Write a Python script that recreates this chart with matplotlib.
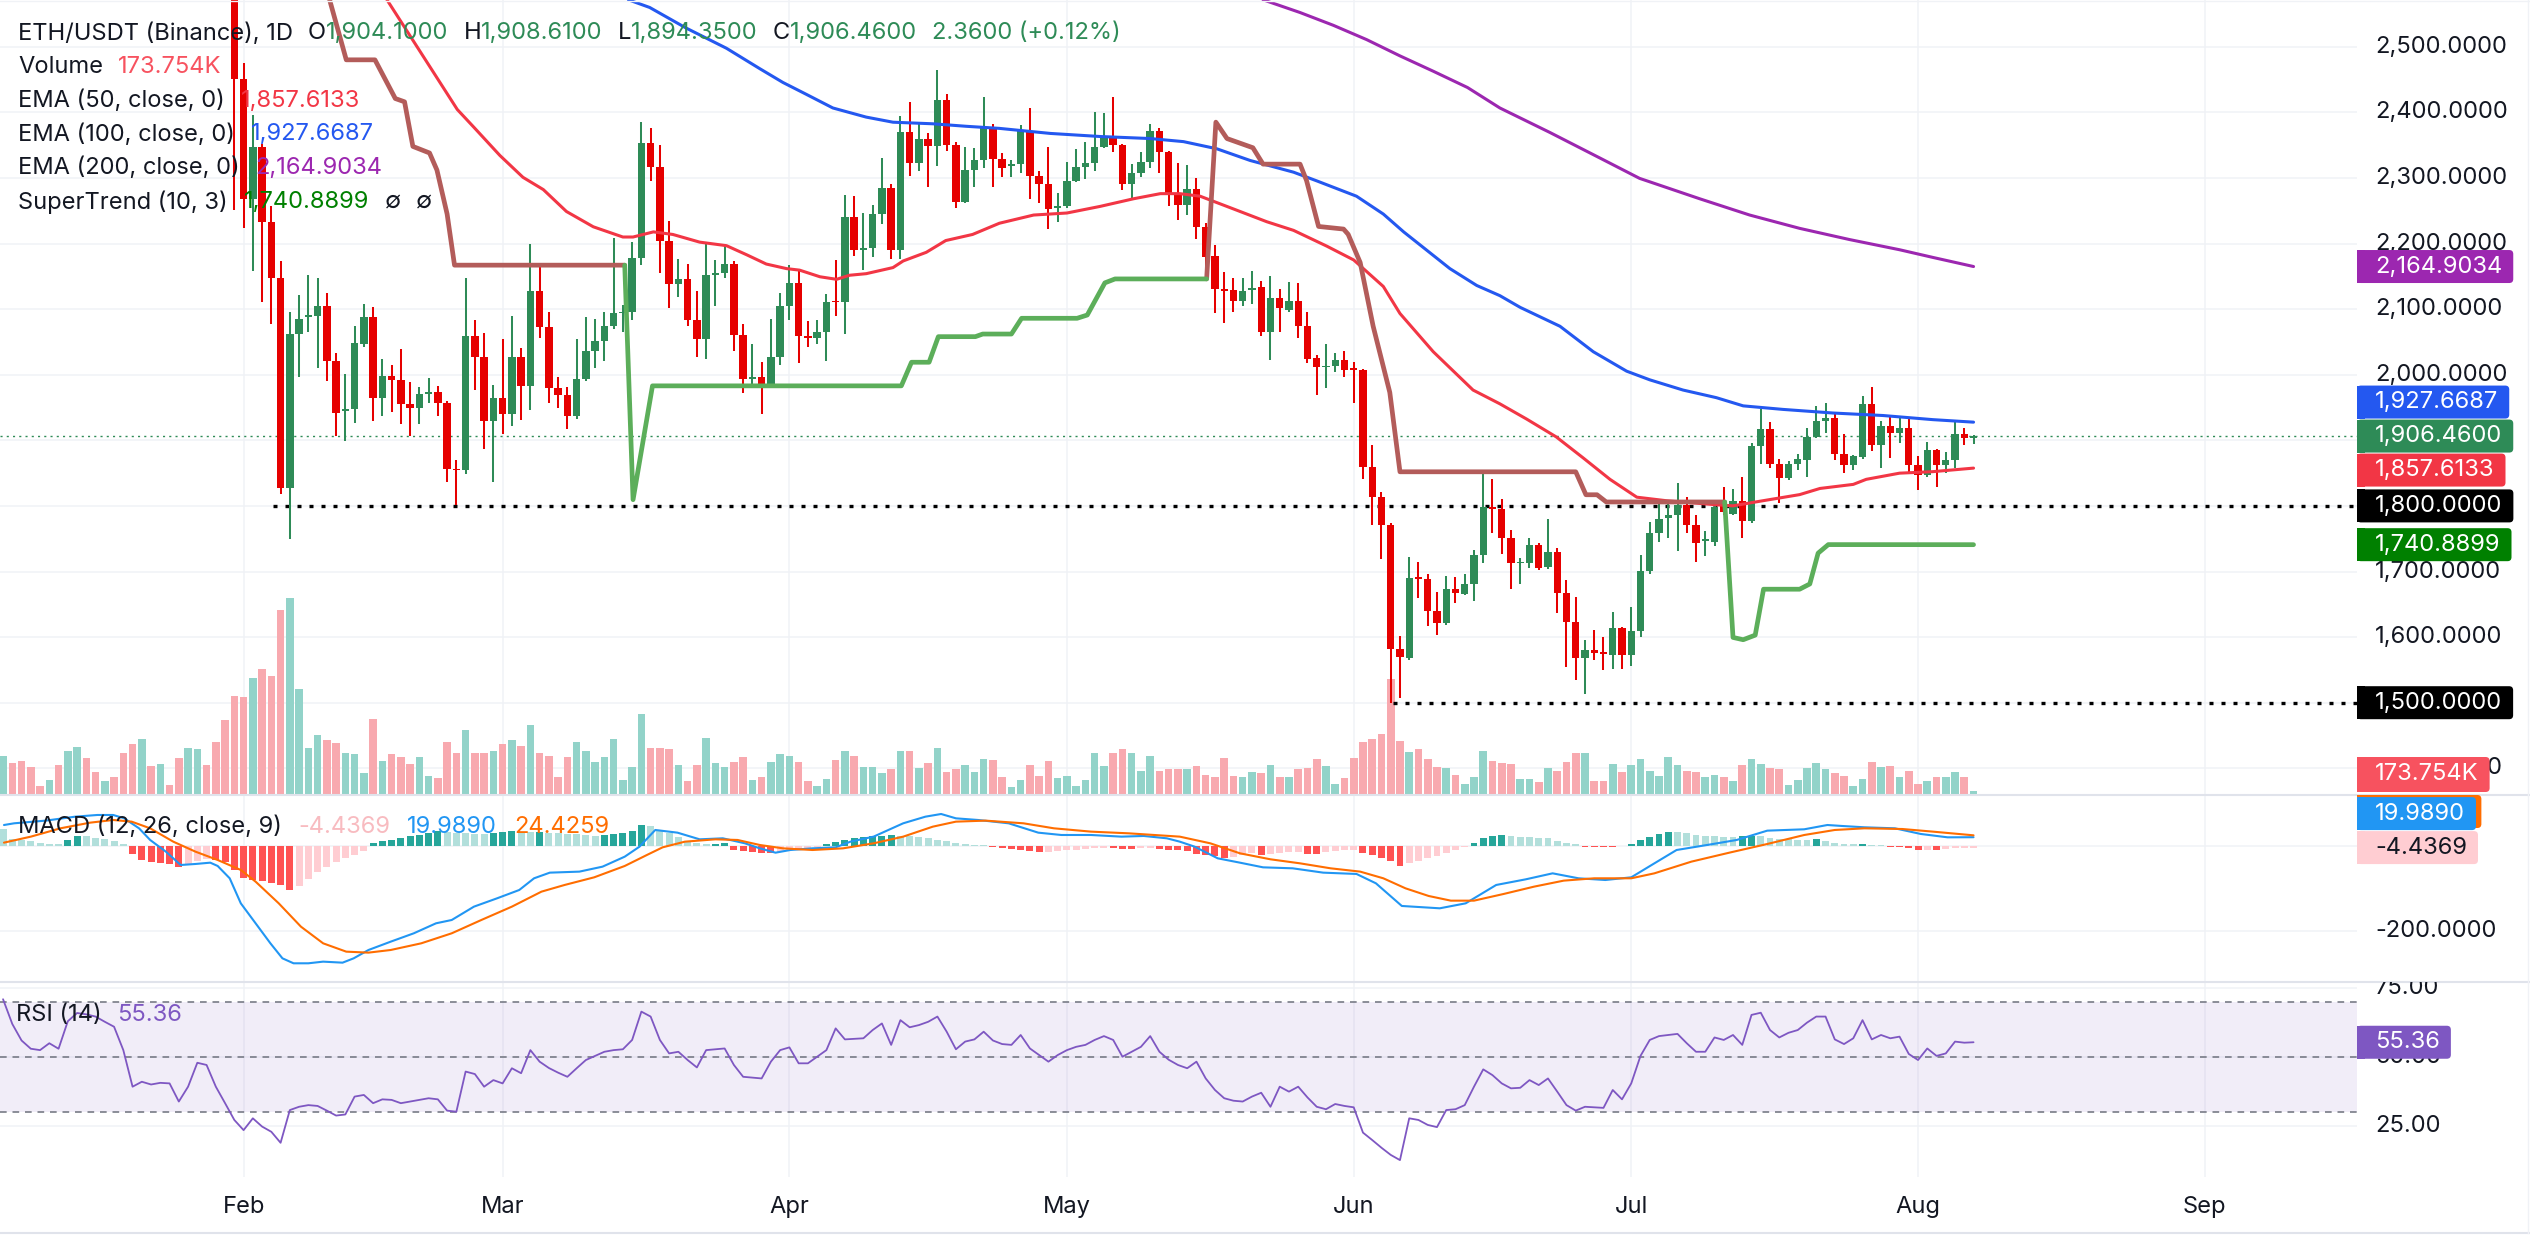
import numpy as np
import matplotlib
matplotlib.use("Agg")
import matplotlib.pyplot as plt
from matplotlib.patches import FancyBboxPatch, Rectangle
from matplotlib.transforms import Bbox

plt.rcParams['font.family'] = ['Inter', 'DejaVu Sans']

# ---------------------------------------------------------------- data
month_labels = ["Feb", "Mar", "Apr", "May", "Jun", "Jul", "Aug", "Sep"]
month_days = [0, 28, 59, 89, 120, 150, 181, 212]          # day index, 0 = 1 Feb
price_ticks = [1400, 1500, 1600, 1700, 1800, 1900, 2000, 2100, 2200, 2300, 2400, 2500]
macd_ticks = [0, -200]
rsi_ticks = [25, 50, 75]
level_prices = [1800, 1500]          # horizontal ray drawings
level_start_day = [3.2, 124.3]

candle_start = -1
opens = [2600.0, 2451.0, 2268.2, 2347.6, 2233.2, 2147.7, 1826.6, 2062.2, 2088.6, 2089.4,
         2104.9, 2021.0, 1944.7, 1947.1, 2046.6, 2087.8, 1965.0, 1997.6, 1992.2, 1955.6,
         1949.4, 1971.2, 1974.3, 1957.2, 1856.1, 1854.5, 2058.3, 2027.2, 1929.2, 1965.0,
         1940.1, 2027.2, 1982.1, 2128.3, 2072.3, 1979.0, 1968.9, 1937.8, 1993.7, 2036.5,
         2052.1, 2073.8, 2093.3, 2095.6, 2177.3, 2353.8, 2316.4, 2203.7, 2137.6, 2145.4,
         2083.9, 2054.4, 2151.6, 2155.5, 2168.7, 2059.8, 1993.7, 1996.1, 1984.4, 2027.2,
         2104.9, 2139.9, 2058.3, 2055.9, 2064.5, 2111.2, 2110.4, 2241.0, 2190.5, 2192.8,
         2244.9, 2285.3, 2190.5, 2369.3, 2322.7, 2360.0, 2348.3, 2418.3, 2349.9, 2262.8,
         2312.6, 2326.6, 2375.5, 2328.9, 2318.0, 2321.1, 2370.9, 2303.2, 2290.0, 2254.2,
         2256.6, 2295.5, 2317.2, 2322.7, 2347.5, 2363.1, 2349.9, 2290.0, 2307.1, 2325.0,
         2370.9, 2339.8, 2276.0, 2258.9, 2283.8, 2225.5, 2180.4, 2130.6, 2129.8, 2112.7,
         2129.8, 2133.7, 2064.5, 2116.6, 2098.7, 2112.7, 2073.8, 2024.9, 2011.6, 2014.0,
         2021.7, 2009.3, 2007.7, 1860.0, 1813.3, 1770.5, 1582.4, 1568.4, 1691.3, 1688.9,
         1639.9, 1621.3, 1673.4, 1665.6, 1681.1, 1725.5, 1797.8, 1795.5, 1751.1, 1712.3,
         1712.3, 1741.0, 1706.8, 1729.4, 1667.9, 1622.8, 1568.4, 1580.1, 1577.7, 1572.3,
         1613.5, 1572.3, 1608.8, 1700.6, 1758.9, 1782.2, 1786.1, 1801.7, 1770.5, 1747.2,
         1745.7, 1801.7, 1787.7, 1807.1, 1776.8, 1891.1, 1916.8, 1863.9, 1842.1, 1863.9,
         1870.1, 1904.3, 1930.0, 1933.9, 1879.4, 1862.3, 1874.0, 1954.9, 1892.7, 1922.2,
         1910.5, 1918.3, 1862.3, 1846.8, 1884.9, 1862.3, 1870.1, 1909.0, 1904.1]
highs = [2625.0, 2475.9, 2396.5, 2352.0, 2256.6, 2173.4, 2095.6, 2122.0, 2151.6, 2147.7,
         2124.4, 2032.6, 2001.5, 2073.8, 2107.3, 2103.4, 2023.3, 2015.5, 2038.9, 1988.3,
         1980.5, 1994.5, 1982.9, 1960.0, 1870.1, 2147.7, 2083.2, 2063.7, 1984.4, 2054.4,
         2089.4, 2040.4, 2199.8, 2164.8, 2095.6, 1996.1, 1980.5, 2054.4, 2087.8, 2085.5,
         2095.6, 2208.4, 2106.5, 2202.1, 2384.9, 2375.5, 2349.9, 2234.8, 2176.5, 2168.7,
         2128.3, 2199.8, 2174.9, 2199.8, 2173.4, 2077.7, 2046.6, 2019.4, 2085.5, 2124.4,
         2167.1, 2159.4, 2081.6, 2083.2, 2122.8, 2174.9, 2273.7, 2272.1, 2246.5, 2258.1,
         2330.4, 2290.0, 2394.2, 2416.0, 2384.9, 2367.8, 2465.0, 2427.6, 2355.3, 2347.5,
         2346.0, 2423.8, 2382.5, 2338.2, 2326.6, 2381.0, 2405.9, 2311.0, 2347.5, 2277.6,
         2324.2, 2344.4, 2355.3, 2400.4, 2398.9, 2423.8, 2351.4, 2321.1, 2339.8, 2382.5,
         2375.5, 2341.3, 2322.7, 2320.3, 2299.3, 2231.7, 2198.3, 2157.0, 2147.7, 2147.7,
         2157.8, 2142.3, 2150.0, 2130.6, 2141.5, 2139.9, 2095.6, 2029.5, 2046.6, 2032.6,
         2036.5, 2019.4, 2009.3, 1893.4, 1821.1, 1774.5, 1601.1, 1721.6, 1714.6, 1696.7,
         1669.5, 1692.8, 1691.3, 1696.7, 1733.2, 1849.9, 1840.5, 1811.0, 1762.8, 1720.0,
         1751.1, 1743.4, 1780.7, 1735.6, 1686.6, 1661.7, 1595.6, 1611.2, 1599.5, 1638.4,
         1616.0, 1646.2, 1725.5, 1776.0, 1805.6, 1807.9, 1834.3, 1813.3, 1786.1, 1761.2,
         1809.5, 1828.9, 1826.5, 1844.4, 1896.5, 1947.1, 1928.4, 1871.7, 1867.8, 1879.4,
         1918.3, 1951.7, 1957.2, 1943.2, 1909.0, 1877.9, 1967.3, 1980.5, 1930.0, 1935.4,
         1937.8, 1935.4, 1875.5, 1898.1, 1886.0, 1881.8, 1927.6, 1918.3, 1908.61]
lows = [2251.1, 2223.1, 2157.8, 2110.4, 2077.7, 1818.8, 1749.6, 1996.1, 2064.5, 2010.1,
        1989.9, 1905.9, 1898.9, 1926.1, 2042.7, 1930.0, 1937.8, 1943.2, 1924.5, 1906.7,
        1924.5, 1957.2, 1937.8, 1836.7, 1801.7, 1848.3, 1976.6, 1887.2, 1836.7, 1909.0,
        1922.2, 1931.5, 1945.5, 2056.7, 1957.2, 1949.4, 1916.8, 1932.3, 1989.9, 2010.1,
        2021.0, 2069.9, 2064.5, 2083.2, 2167.1, 2295.5, 2155.5, 2101.1, 2118.9, 2073.8,
        2027.2, 2023.3, 2104.9, 2147.7, 2036.5, 1972.7, 1984.4, 1940.1, 1980.5, 2015.5,
        2083.2, 2017.8, 2042.7, 2046.6, 2021.0, 2089.4, 2062.2, 2181.1, 2159.4, 2178.8,
        2229.4, 2176.5, 2176.5, 2303.2, 2311.0, 2286.1, 2318.8, 2340.5, 2254.2, 2262.0,
        2286.1, 2314.9, 2286.1, 2300.9, 2300.9, 2307.1, 2268.2, 2262.0, 2221.6, 2233.2,
        2254.2, 2293.9, 2297.8, 2311.0, 2346.0, 2339.8, 2282.2, 2266.7, 2300.9, 2314.9,
        2307.1, 2256.6, 2235.6, 2243.4, 2207.6, 2163.3, 2093.3, 2079.3, 2095.6, 2104.9,
        2107.3, 2058.3, 2021.7, 2064.5, 2095.6, 2056.7, 2017.8, 1968.9, 1979.0, 2003.9,
        1996.1, 1957.2, 1840.5, 1770.5, 1718.5, 1500.0, 1507.7, 1564.5, 1660.2, 1616.6,
        1603.4, 1618.0, 1652.4, 1664.0, 1655.5, 1712.3, 1758.9, 1726.2, 1673.4, 1681.1,
        1706.0, 1702.9, 1704.0, 1636.8, 1554.4, 1535.0, 1514.0, 1564.5, 1550.5, 1551.3,
        1551.3, 1555.2, 1599.5, 1696.7, 1744.9, 1751.1, 1731.7, 1758.9, 1714.6, 1723.9,
        1739.5, 1786.1, 1786.1, 1751.1, 1774.5, 1863.9, 1858.4, 1804.0, 1839.0, 1854.5,
        1844.4, 1902.8, 1910.5, 1870.1, 1849.9, 1854.5, 1872.0, 1883.3, 1857.7, 1873.2,
        1896.5, 1849.9, 1823.5, 1844.0, 1828.9, 1849.9, 1857.7, 1892.7, 1894.35]
closes = [2451.0, 2268.2, 2347.6, 2233.2, 2147.7, 1826.6, 2062.2, 2085.5, 2091.7, 2104.9,
          2021.0, 1941.6, 1947.9, 2049.0, 2087.8, 1965.0, 1997.6, 1992.2, 1955.6, 1949.4,
          1971.2, 1974.3, 1957.2, 1856.1, 1854.5, 2058.3, 2027.2, 1929.2, 1965.0, 1940.1,
          2027.2, 1982.1, 2128.3, 2072.3, 1979.0, 1968.9, 1937.8, 1993.7, 2036.5, 2052.1,
          2073.8, 2093.3, 2095.6, 2177.3, 2353.8, 2316.4, 2203.7, 2137.6, 2145.4, 2083.9,
          2054.4, 2151.6, 2155.5, 2168.7, 2059.8, 1993.7, 1996.1, 1984.4, 2027.2, 2104.9,
          2139.9, 2058.3, 2055.9, 2064.5, 2111.2, 2110.4, 2241.0, 2190.5, 2192.8, 2244.9,
          2285.3, 2190.5, 2369.3, 2322.7, 2360.0, 2348.3, 2418.3, 2349.9, 2262.8, 2312.6,
          2326.6, 2375.5, 2328.9, 2314.9, 2321.1, 2370.9, 2303.2, 2290.0, 2252.7, 2256.6,
          2295.5, 2317.2, 2322.7, 2347.5, 2363.1, 2349.9, 2290.0, 2307.1, 2325.0, 2370.9,
          2339.8, 2276.0, 2258.9, 2283.8, 2225.5, 2178.8, 2130.6, 2128.3, 2112.7, 2128.3,
          2132.2, 2064.5, 2116.6, 2101.1, 2112.7, 2073.8, 2023.3, 2011.6, 2014.0, 2021.7,
          2007.7, 2007.7, 1860.0, 1813.3, 1770.5, 1582.4, 1569.9, 1690.5, 1688.9, 1639.9,
          1621.3, 1673.4, 1667.2, 1681.1, 1725.5, 1797.8, 1795.5, 1751.1, 1712.3, 1714.6,
          1741.0, 1706.0, 1729.4, 1667.9, 1622.8, 1568.4, 1580.1, 1576.2, 1574.6, 1613.5,
          1572.3, 1608.8, 1700.6, 1758.9, 1779.9, 1786.1, 1801.7, 1770.5, 1743.4, 1748.8,
          1797.8, 1790.0, 1807.1, 1776.8, 1891.1, 1916.8, 1863.9, 1842.1, 1863.9, 1871.7,
          1904.3, 1930.0, 1933.9, 1879.4, 1862.3, 1875.5, 1954.9, 1892.7, 1922.2, 1910.5,
          1918.3, 1862.3, 1846.8, 1884.9, 1862.3, 1870.1, 1909.0, 1904.1, 1906.46]

vol_start = -26
volume_k = [1925, 1550, 1675, 1375, 450, 750, 1450, 2175, 2375, 1825,
            1125, 675, 875, 2050, 2475, 2725, 1425, 1525, 500, 1825,
            2325, 2275, 1450, 2575, 3675, 4875, 4800, 5750, 6150, 5825,
            9050, 9675, 5175, 2300, 2950, 2700, 2550, 2050, 2000, 1075,
            3700, 1675, 2000, 1875, 1500, 1875, 925, 825, 2575, 2075,
            3175, 2075, 2075, 2175, 2500, 2675, 2425, 3425, 2050, 1925,
            875, 1875, 2575, 2175, 1625, 1875, 2725, 750, 1375, 3950,
            2325, 2325, 2250, 1450, 675, 1450, 2800, 1550, 1375, 1625,
            1875, 750, 875, 1625, 2025, 1925, 1625, 700, 450, 800,
            1725, 2175, 1925, 1375, 1375, 1075, 1250, 2175, 2175, 1325,
            1550, 2325, 1125, 1250, 1450, 1125, 1775, 1725, 875, 375,
            750, 1450, 925, 1675, 825, 950, 450, 750, 2075, 1425,
            2050, 2250, 2050, 1175, 1925, 1175, 1250, 1250, 1250, 1425,
            1000, 875, 1825, 950, 875, 1125, 1075, 1450, 875, 875,
            1250, 1300, 1750, 1425, 550, 825, 1800, 2575, 2750, 3000,
            5675, 2625, 2125, 2250, 1750, 1375, 1325, 1000, 550, 875,
            2175, 1675, 1575, 1500, 800, 800, 625, 1300, 1200, 1625,
            2050, 2050, 675, 700, 1500, 1125, 1450, 1750, 1200, 950,
            1875, 1450, 1200, 1125, 875, 1000, 875, 675, 1450, 1750,
            1500, 1300, 1250, 500, 750, 1325, 1550, 1250, 1075, 950,
            450, 800, 1625, 1375, 1425, 875, 1175, 550, 675, 875,
            875, 1125, 875, 173.754]
vol_dir_early = "grrrrgrggrrgrrrgrgrrggrrr"   # bars before the first visible candle

ema50_d = [15.5, 23.1, 24.9, 27.7, 30.2, 32.4, 34.9, 37.8, 41.0, 42.1, 44.3, 46.4, 49.3, 52.2,
           54.4, 56.5, 58.7, 60.1, 62.3, 64.1, 65.5, 67.3, 70.2, 71.3, 73.8, 75.9, 78.8, 81.7,
           85.4, 89.0, 92.6, 96.2, 99.1, 101.2, 103.4, 107.0, 110.6, 113.5, 117.1, 120.0, 123.2,
           125.0, 128.6, 132.9, 135.8, 138.7, 141.9, 144.8, 147.7, 150.6, 153.8, 159.2, 161.0,
           163.9, 168.2, 170.4, 174.0, 175.4, 179.0, 182.6, 187.0]
ema50_v = [2571.5, 2404.3, 2377.1, 2334.3, 2300.9, 2282.2, 2248.8, 2225.5, 2209.9, 2209.9,
           2217.7, 2213.8, 2202.1, 2196.7, 2182.7, 2168.7, 2161.7, 2159.4, 2149.3, 2145.4,
           2151.6, 2154.0, 2163.3, 2173.4, 2186.6, 2204.5, 2213.8, 2230.9, 2243.4, 2246.5,
           2256.6, 2268.2, 2276.0, 2276.0, 2272.1, 2252.7, 2233.2, 2220.0, 2195.9, 2174.9,
           2134.5, 2093.3, 2035.0, 1976.6, 1955.6, 1932.3, 1905.1, 1873.2, 1840.5, 1813.3,
           1807.9, 1801.7, 1800.1, 1807.1, 1817.2, 1826.6, 1832.8, 1840.5, 1849.9, 1852.2, 1857.6133]
ema100_d = [41.6, 43.9, 47.8, 52.2, 55.8, 58.3, 60.8, 63.7, 67.3, 70.2, 74.5, 78.1, 81.7, 87.2,
            92.6, 98.0, 101.6, 105.2, 108.8, 113.5, 116.0, 120.3, 123.2, 125.4, 130.4, 133.3,
            135.8, 138.0, 142.3, 145.9, 149.5, 152.0, 155.6, 159.2, 162.1, 166.4, 171.8, 177.2,
            182.6, 187.0]
ema100_v = [2571.5, 2559.8, 2528.7, 2497.6, 2466.5, 2445.5, 2427.6, 2406.6, 2392.7, 2384.9,
            2382.5, 2378.7, 2375.5, 2367.8, 2363.1, 2360.0, 2355.3, 2344.4, 2326.6, 2308.7,
            2295.5, 2272.1, 2244.9, 2217.7, 2161.7, 2136.0, 2120.5, 2102.6, 2073.8, 2035.0,
            2005.4, 1992.2, 1976.6, 1965.0, 1952.5, 1947.1, 1941.6, 1937.8, 1931.5, 1927.6687]
ema200_d = [110.2, 114.2, 117.8, 121.4, 125.0, 128.6, 132.3, 135.8, 141.2, 146.6, 150.9,
            157.4, 162.8, 168.2, 173.6, 179.0, 182.6, 187.0]
ema200_v = [2571.5, 2552.1, 2532.6, 2510.8, 2486.0, 2462.6, 2437.8, 2406.6, 2369.3, 2330.4,
            2299.3, 2268.2, 2243.4, 2223.1, 2206.0, 2190.5, 2178.8, 2164.9034]

st_dn1_d = [9.3, 11.1, 14.2, 16.4, 17.4, 18.3, 20.1, 20.9, 22.0, 22.8, 41.2]
st_dn1_v = [2571.5, 2480, 2480, 2421, 2416, 2348, 2338, 2312, 2245, 2167, 2167]
st_up1_d = [41.2, 42.1, 44.2, 71.1, 72.2, 74.1, 75.1, 79.1, 79.9, 83.0, 84.1, 90.1, 91.2, 93.1, 94.2, 104.1]
st_up1_v = [2167, 1809.5, 1983, 1983, 2019, 2019, 2058, 2058, 2062, 2062, 2086, 2086, 2091, 2140, 2146, 2146]
st_dn2_d = [104.1, 105.1, 106.3, 109.1, 110.2, 114.2, 114.9, 116.2, 118.9, 119.4, 120.7, 122.1,
            123.9, 125.0, 144.0, 145.1, 146.3, 147.3, 160.1]
st_dn2_v = [2146, 2385, 2360, 2346, 2321, 2321, 2296, 2226, 2222, 2214, 2171, 2074, 1973, 1852,
            1852, 1817, 1817, 1806, 1806]
st_up2_d = [160.1, 161.0, 162.1, 163.4, 164.3, 168.2, 169.3, 170.2, 171.3, 187.0]
st_up2_v = [1806, 1599.5, 1596, 1603, 1673, 1673, 1681, 1728, 1741, 1740.8899]

ind_start = -26
macd_hist = [39, 16, 14, 10, 6, 5, 4, 14, 24, 24,
             19, 16, 10, 5, -20, -33, -38, -41, -42, -49,
             -42, -37, -31, -34, -38, -57, -76, -80, -84, -88,
             -92, -105, -94, -78, -63, -50, -39, -29, -21, -13,
             6, 10, 14, 18, 22, 26, 31, 34, 32, 30,
             29, 28, 27, 30, 32, 34, 33, 32, 33, 30,
             29, 28, 27, 26, 24, 25, 28, 30, 35, 49,
             47, 38, 30, 20, 12, 6, 4, 5, 6, -9,
             -13, -15, -17, -18, -14, -11, -8, -5, -2, 5,
             9, 14, 17, 20, 22, 24, 26, 24, 22, 20,
             17, 14, 10, 7, 4, 2, 1, -3, -6, -8,
             -10, -13, -15, -14, -12, -10, -9, -8, -6, -5,
             -6, -7, -8, -6, -5, -7, -9, -11, -13, -19,
             -22, -25, -28, -26, -21, -18, -22, -19, -18, -15,
             -14, -19, -19, -15, -13, -11, -9, -17, -22, -28,
             -37, -47, -41, -35, -30, -25, -18, -11, -4, 7,
             18, 24, 26, 22, 20, 20, 18, 17, 12, 6,
             3, -2, -2, -2, -2, -1, 4, 13, 21, 28,
             33, 33, 30, 26, 24, 22, 20, 20, 22, 24,
             22, 18, 16, 16, 14, 14, 15, 10, 6, 4,
             4, 5, 2, 2, -2, -2, -6, -11, -9, -11,
             -8, -6, -5, -4.4369]
macd_d = [-25.9, -24.8, -21.4, -18.2, -15.8, -14.1, -12.9, -11.3, -10.1, -8.4, -6.8, -5.2, -3.6,
          -2.8, -1.5, -0.3, 1.3, 2.9, 4.2, 5.4, 7.0, 8.6, 10.7, 11.9, 13.5, 15.9, 18.4, 20.8,
          22.5, 24.9, 27.4, 29.8, 31.4, 33.1, 36.3, 38.8, 41.2, 42.8, 44.5, 46.9, 49.3, 51.8,
          54.2, 55.8, 57.5, 59.1, 61.5, 64.0, 65.6, 68.1, 71.3, 73.7, 75.4, 77.0, 79.4, 82.7,
          85.9, 88.4, 91.6, 94.9, 97.3, 99.8, 101.2, 102.8, 105.3, 107.7, 110.2, 113.4, 116.7,
          120.3, 122.4, 125.2, 129.3, 132.1, 135.4, 138.6, 141.5, 144.3, 147.2, 150.0, 152.5,
          154.9, 158.2, 161.4, 164.7, 168.7, 171.2, 172.8, 175.2, 178.5, 181.3, 184.2, 187.0]
macd_v = [48.7, 52.7, 59.0, 68.3, 72.3, 72.3, 64.4, 40.9, 13.5, -14.0, -45.4, -43.0, -39.9,
          -47.7, -76.7, -135.6, -182.6, -229.7, -265.0, -276.7, -276.7, -272.8, -275.2, -265.0,
          -245.4, -225.8, -206.1, -182.6, -174.8, -143.4, -123.8, -104.2, -76.7, -63.4, -61.0,
          -49.3, -25.8, -2.2, 37.0, 30.7, 15.0, 17.4, 5.6, -6.2, -16.4, -10.1, -6.2, -3.8, 9.5,
          21.3, 52.7, 68.3, 74.6, 64.4, 60.5, 52.7, 30.7, 25.2, 25.2, 21.3, 22.9, 17.4, 9.5,
          -2.2, -29.7, -39.9, -50.9, -53.2, -63.4, -66.5, -88.5, -141.8, -147.3, -135.6, -92.4,
          -79.1, -65.0, -76.7, -80.7, -74.4, -41.5, -10.1, 1.7, 13.5, 35.4, 38.6, 48.7, 46.4,
          43.3, 40.9, 27.6, 19.7, 19.989]
signal_d = [-25.9, -23.0, -19.8, -16.6, -14.1, -12.1, -10.1, -7.6, -5.2, -2.8, -0.3, 1.3, 3.8,
            6.2, 8.6, 11.1, 13.5, 15.9, 19.2, 22.5, 25.7, 29.0, 32.2, 34.7, 37.9, 41.2, 43.6,
            45.3, 47.7, 51.0, 53.4, 55.8, 58.3, 61.5, 64.8, 68.1, 71.3, 74.5, 77.0, 80.2, 84.3,
            87.6, 91.6, 95.7, 101.2, 104.5, 107.7, 111.0, 114.2, 117.5, 120.7, 123.2, 125.6,
            128.1, 130.5, 133.0, 136.2, 139.5, 142.7, 146.0, 150.0, 152.5, 156.5, 160.6, 164.7,
            168.7, 172.0, 175.2, 179.3, 182.6, 187.0]
signal_v = [7.2, 21.3, 40.9, 54.2, 60.5, 56.6, 40.9, 9.5, -14.0, -33.6, -57.1, -84.6, -135.6,
            -190.5, -229.7, -249.3, -251.6, -245.4, -229.7, -206.1, -174.8, -143.4, -108.1,
            -92.4, -74.4, -47.7, -21.8, -3.8, 9.5, 15.0, 13.5, 1.7, -6.2, -10.1, -6.2, 5.6, 21.3,
            44.8, 56.6, 59.0, 52.7, 40.9, 33.1, 29.1, 21.3, 5.6, -17.9, -32.0, -41.5, -53.2,
            -61.0, -76.7, -100.3, -118.3, -129.3, -129.3, -113.6, -96.3, -82.2, -76.7, -76.7,
            -65.0, -37.5, -16.4, 4.0, 25.2, 37.0, 40.9, 39.3, 33.1, 24.4259]

rsi = [71, 62, 56, 53, 52.5, 55, 53, 63, 66, 65.5,
       64.7, 62.8, 61, 52.5, 39.2, 41, 40, 40.6, 40.4, 33.8,
       39.2, 47.9, 47.1, 39.2, 33.2, 27.1, 23.4, 27.7, 24.7, 22.8,
       18.8, 30.7, 31.9, 32.5, 32.2, 30.5, 28.7, 29.1, 35.6, 36.2,
       33.2, 34.6, 34.4, 33.2, 33.8, 34.4, 35, 34.6, 30.5, 30.1,
       44.7, 43.8, 39.2, 41.6, 40.4, 45.9, 44.1, 52.5, 48.3, 46,
       44.3, 42.8, 45.9, 48.9, 50.4, 51.9, 52.5, 52.8, 56.2, 66.5,
       64.7, 56.2, 51.3, 51.9, 48.9, 46.2, 52.5, 52.8, 53.1, 47.1,
       42.8, 42.5, 42.2, 48.3, 52.5, 53.5, 47.7, 47.7, 50.1, 52.5,
       60.4, 56.4, 56.6, 56.8, 59.8, 62.2, 54.4, 63.4, 60.8, 61.6,
       62.8, 64.7, 59.2, 52.8, 55.6, 56.4, 59.2, 56, 54.7, 54.4,
       58, 53.1, 50.7, 48.3, 50.7, 52.5, 53.7, 54.4, 56.2, 57.6,
       56.2, 50.1, 51.9, 53.7, 57.6, 51.9, 49, 47.1, 45.9, 48.3,
       42.2, 38, 35, 34.1, 33.8, 35.6, 37, 31.9, 39.2, 37.4,
       39.2, 35.3, 31.9, 31, 32.9, 32.2, 31.7, 22.5, 19.8, 17,
       14.4, 12.5, 27.7, 27.1, 25.3, 24.5, 30.7, 31, 32.5, 39.2,
       45.5, 43.4, 40.4, 38.6, 38.8, 41.6, 39.8, 42.2, 37.4, 32.5,
       30.5, 31.9, 31.7, 31.5, 38, 34.6, 40.4, 50.4, 56.2, 57.6,
       58, 58.4, 55, 51.9, 51.9, 57.1, 56.2, 58, 54.4, 65.3,
       66.1, 59.8, 57.1, 58.8, 59.8, 62.5, 64.7, 64.7, 56.4, 54.7,
       56.8, 63.4, 56.4, 58, 56.8, 57.4, 51.1, 48.9, 53.1, 50.4,
       51.3, 55.6, 55.2, 55.36]

# ---------------------------------------------------------------- style / layout
W, H = 2530, 1253
PR = 2357
MAIN, MACD, RSI = (0, 795), (795, 982), (982, 1177)
X_LIM = (-26.33, 228.45)
PRICE_LIM = (1359.3, 2571.2)
VOL_LIM = (0, 38955)
MACD_LIM = (-320.7, 119.3)
RSI_LIM = (6.36, 77.27)

TXT = '#131722'
GRID = '#F0F2F6'
SEP = '#E0E3EB'
UPC = '#2E8B57'
DNC = '#E60000'
VUP, VDN = '#92D3C9', '#F8A9AF'
C50, C100, C200 = '#F23645', '#2458F0', '#9C27B0'
ST_UP, ST_DN = '#5CAE5A', '#B35C5A'
MACD_C, SIG_C = '#2196F3', '#FF6D00'
RSI_C = '#7E57C2'

fig = plt.figure(figsize=(W / 100, H / 100), dpi=100)
fig.patch.set_facecolor('white')


def pane(top, bottom, z):
    a = fig.add_axes([0, 1 - bottom / H, PR / W, (bottom - top) / H], zorder=z)
    a.set_xlim(*X_LIM)
    for s in a.spines.values():
        s.set_visible(False)
    a.set_xticks([])
    a.set_yticks([])
    a.patch.set_alpha(0)
    return a


axg = pane(*MAIN, 1)
axv = pane(*MAIN, 2)
ax = pane(*MAIN, 3)
axm = pane(*MACD, 3)
axr = pane(*RSI, 3)
axg.set_ylim(*PRICE_LIM)
ax.set_ylim(*PRICE_LIM)
axv.set_ylim(*VOL_LIM)
axm.set_ylim(*MACD_LIM)
axr.set_ylim(*RSI_LIM)

# grid
for a in (axg, axm, axr):
    for d in month_days:
        a.axvline(d, color=GRID, lw=1.1, zorder=0)
for p in price_ticks:
    axg.axhline(p, color=GRID, lw=1.1, zorder=0)
for v in macd_ticks:
    axm.axhline(v, color=GRID, lw=1.1, zorder=0)
for v in rsi_ticks:
    axr.axhline(v, color=GRID, lw=1.1, zorder=0)

# volume
o = np.array(opens); h = np.array(highs); l = np.array(lows); c = np.array(closes)
cdays = np.arange(candle_start, candle_start + len(o))
up = c >= o
vdays = np.arange(vol_start, vol_start + len(volume_k))
vcols = [VUP if ch == 'g' else VDN for ch in vol_dir_early] + [VUP if u else VDN for u in up]
axv.bar(vdays, volume_k, width=0.82, color=vcols[:len(vdays)], linewidth=0)

# price line + level rays
ax.axhline(c[-1], color=UPC, lw=1.0, ls=(0, (1.5, 3)), zorder=2)
for p, sd in zip(level_prices, level_start_day):
    ax.plot([sd, X_LIM[1]], [p, p], color='black', lw=2.4, ls=(0, (1.2, 2.4)), zorder=2)

# candles
ccols = np.where(up, UPC, DNC)
ax.vlines(cdays, l, h, colors=ccols, lw=1.45, zorder=3)
ax.bar(cdays, np.maximum(np.abs(c - o), 2.4), bottom=np.minimum(o, c), width=0.8,
       color=ccols, linewidth=0, zorder=4)

# indicators
kw = dict(solid_joinstyle='round', solid_capstyle='round')
ax.plot(ema200_d, ema200_v, color=C200, lw=2.2, zorder=5, **kw)
ax.plot(ema100_d, ema100_v, color=C100, lw=2.2, zorder=5, **kw)
ax.plot(ema50_d, ema50_v, color=C50, lw=2.2, zorder=5, **kw)
ax.plot(st_dn1_d, st_dn1_v, color=ST_DN, lw=3.4, zorder=6, **kw)
ax.plot(st_dn2_d, st_dn2_v, color=ST_DN, lw=3.4, zorder=6, **kw)
ax.plot(st_up1_d, st_up1_v, color=ST_UP, lw=3.4, zorder=6, **kw)
ax.plot(st_up2_d, st_up2_v, color=ST_UP, lw=3.4, zorder=6, **kw)

# MACD
hist = np.array(macd_hist, dtype=float)
idays = np.arange(ind_start, ind_start + len(hist))
hcols = []
for i, v in enumerate(hist):
    prev = hist[i - 1] if i > 0 else v
    if v >= 0:
        hcols.append('#26A69A' if v > prev else '#B2DFDB')
    else:
        hcols.append('#FFCDD2' if v > prev else '#FF5252')
axm.bar(idays, hist, width=0.75, color=hcols, linewidth=0, zorder=2)
axm.plot(macd_d, macd_v, color=MACD_C, lw=1.5, zorder=3, **kw)
axm.plot(signal_d, signal_v, color=SIG_C, lw=1.5, zorder=3, **kw)

# RSI
axr.fill_between(X_LIM, 30, 70, color=RSI_C, alpha=0.1, lw=0, zorder=1)
for lvl in (70, 50, 30):
    axr.axhline(lvl, color='#787B86', lw=1.2, ls=(0, (4, 3.5)), zorder=2)
rdays = np.arange(ind_start, ind_start + len(rsi))
axr.plot(rdays, rsi, color=RSI_C, lw=1.3, zorder=3, **kw)

# ---------------------------------------------------------------- overlay (pixel space)
ov = fig.add_axes([0, 0, 1, 1], zorder=20)
ov.set_xlim(0, W)
ov.set_ylim(H, 0)
ov.axis('off')
ov.patch.set_alpha(0)
renderer = fig.canvas.get_renderer()


def ypix(a, v):
    return H - a.transData.transform((X_LIM[0], v))[1]


def xpix(a, d):
    return a.transData.transform((d, 0))[0]


def text_w(s, size):
    t = ov.text(0, 0, s, fontsize=size)
    w = t.get_window_extent(renderer).width
    t.remove()
    return w


F_TICK = 20 * 132 / text_w("2,500.0000", 20)
F_LEG = 20 * 275 / text_w("ETH/USDT (Binance), 1D", 20)

# separators / borders
for yy in (MAIN[1], MACD[1]):
    ov.plot([0, W], [yy, yy], color=SEP, lw=1.5, zorder=1)
ov.plot([0, W], [1233, 1233], color=SEP, lw=1.5, zorder=1)
ov.plot([0, W], [0.5, 0.5], color=GRID, lw=1.0, zorder=1)
ov.plot([W - 2, W - 2], [0, 1233], color=GRID, lw=1.0, zorder=1)


def clip_region(top, bottom):
    return Bbox([[PR, H - bottom], [W, H - top]])


def axis_label(y, s, region):
    t = ov.text(PR + 18, y, s, color=TXT, fontsize=F_TICK, va='center', ha='left', zorder=2)
    t.set_clip_box(clip_region(*region))
    t.set_clip_on(True)


for p in price_ticks:
    axis_label(ypix(ax, p), f"{p:,.4f}", MAIN)
for v in macd_ticks:
    axis_label(ypix(axm, v), f"{v:,.4f}", MACD)
for v in rsi_ticks:
    axis_label(ypix(axr, v), f"{v:.2f}", RSI)

for d, lab in zip(month_days, month_labels):
    ov.text(xpix(ax, d), 1207, lab, color=TXT, fontsize=F_TICK, ha='center', va='center')


def tag(y, s, bg, fg='white', z=5, hh=16.5):
    w = text_w(s, F_TICK) + 29
    ov.add_patch(FancyBboxPatch((PR, y - hh), w, 2 * hh, boxstyle="round,pad=0,rounding_size=4",
                                fc=bg, ec='none', zorder=z))
    ov.add_patch(Rectangle((PR, y - hh), 8, 2 * hh, fc=bg, ec='none', zorder=z))
    ov.text(PR + 18, y, s, color=fg, fontsize=F_TICK, va='center', ha='left', zorder=z + 0.5)


def spread(items, anchor_idx, top, bottom, step=34):
    ys = [ypix(a, v) for a, v, *_ in items]
    ay = ys[anchor_idx]
    above = sorted([i for i in range(len(items)) if i != anchor_idx and ys[i] <= ay],
                   key=lambda i: -ys[i])
    below = sorted([i for i in range(len(items)) if i != anchor_idx and ys[i] > ay],
                   key=lambda i: ys[i])
    prev = ay
    for i in above:
        ys[i] = min(ys[i], prev - step)
        prev = ys[i]
    prev = ay
    for i in below:
        ys[i] = max(ys[i], prev + step)
        prev = ys[i]
    return [min(max(y, top + 16.5), bottom - 16.5) for y in ys]


main_items = [
    (ax, ema200_v[-1], C200, 'white'),
    (ax, ema100_v[-1], C100, 'white'),
    (ax, c[-1], UPC, 'white'),
    (ax, ema50_v[-1], C50, 'white'),
    (ax, level_prices[0], 'black', 'white'),
    (ax, st_up2_v[-1], '#008000', 'white'),
    (ax, level_prices[1], 'black', 'white'),
]
ys = spread(main_items, 2, *MAIN)
for (a, v, bg, fg), y in zip(main_items, ys):
    tag(y, f"{v:,.4f}", bg, fg)

vy = min(ypix(axv, volume_k[-1]), MAIN[1] - 16.5 - 4)
tag(vy, f"{volume_k[-1]:.3f}K", '#F7525F', hh=17.5)

macd_items = [(axm, signal_v[-1], SIG_C, 'white'), (axm, macd_v[-1], MACD_C, 'white'),
              (axm, hist[-1], '#FFCDD2', TXT)]
ys = spread(macd_items, 2, *MACD)
for z, ((a, v, bg, fg), y) in enumerate(zip(macd_items, ys)):
    tag(y, f"{v:.4f}", bg, fg, z=5 + z)

tag(ypix(axr, rsi[-1]), f"{rsi[-1]:.2f}", RSI_C)


# legends
def seq(x, y, parts, size=None):
    size = size or F_LEG
    for s, col, gap in parts:
        t = ov.text(x, y, s, color=col, fontsize=size, va='center', ha='left', zorder=30)
        x += t.get_window_extent(renderer).width + gap


chg = c[-1] - c[-2]
pct = chg / c[-2] * 100
vc = UPC if chg >= 0 else DNC
rows_y = [33.3 + 33.7 * i for i in range(6)]
seq(18, rows_y[0], [("ETH/USDT (Binance), 1D", TXT, 15),
                    ("O", TXT, 0), (f"{o[-1]:,.4f}", vc, 15),
                    ("H", TXT, 0), (f"{h[-1]:,.4f}", vc, 15),
                    ("L", TXT, 0), (f"{l[-1]:,.4f}", vc, 15),
                    ("C", TXT, 0), (f"{c[-1]:,.4f}", vc, 15),
                    (f"{chg:.4f} ({pct:+.2f}%)", vc, 0)])
seq(18, rows_y[1], [("Volume", TXT, 15), (f"{volume_k[-1]:.3f}K", '#F7525F', 0)])
seq(18, rows_y[2], [("EMA (50, close, 0)", TXT, 16), (f"{ema50_v[-1]:,.4f}", C50, 0)])
seq(18, rows_y[3], [("EMA (100, close, 0)", TXT, 16), (f"{ema100_v[-1]:,.4f}", C100, 0)])
seq(18, rows_y[4], [("EMA (200, close, 0)", TXT, 16), (f"{ema200_v[-1]:,.4f}", C200, 0)])
seq(18, rows_y[5], [("SuperTrend (10, 3)", TXT, 16), (f"{st_up2_v[-1]:,.4f}", '#008000', 16),
                    ("\u2205", TXT, 15), ("\u2205", TXT, 0)])
seq(18, 827, [("MACD (12, 26, close, 9)", TXT, 17), (f"{hist[-1]:.4f}", '#F8BBC0', 16),
              (f"{macd_v[-1]:.4f}", MACD_C, 17), (f"{signal_v[-1]:.4f}", SIG_C, 0)])
seq(16, 1015, [("RSI (14)", TXT, 15), (f"{rsi[-1]:.2f}", RSI_C, 0)])

fig.savefig("out.png", dpi=100)
